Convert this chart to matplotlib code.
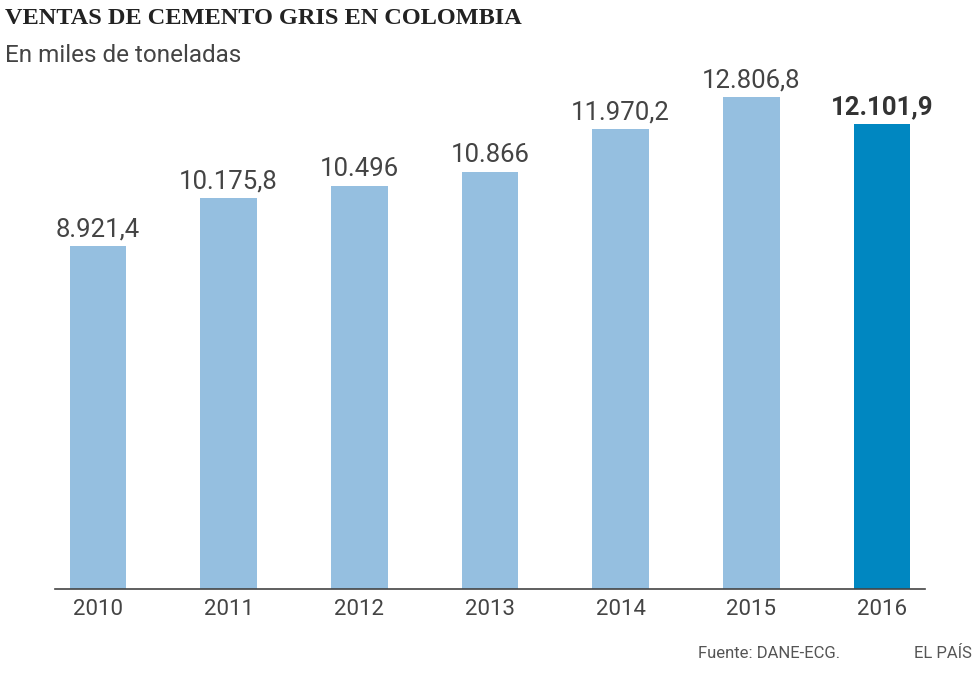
import matplotlib
matplotlib.use("Agg")
import matplotlib.pyplot as plt

years = ["2010", "2011", "2012", "2013", "2014", "2015", "2016"]
values = [8921.4, 10175.8, 10496, 10866, 11970.2, 12806.8, 12101.9]
labels = ["8.921,4", "10.175,8", "10.496", "10.866", "11.970,2", "12.806,8", "12.101,9"]
colors = ["#95bfe0"] * 6 + ["#0087c1"]

fig = plt.figure(figsize=(9.8, 6.74), dpi=100)
ax = fig.add_axes([55/980, (674-589)/674, 870/980, (589-80)/674])
x = list(range(len(years)))
ax.bar(x, values, width=0.436, color=colors, zorder=2)
ax.set_xlim(-0.329, 6.329)
ax.set_ylim(0, 13250)
for i, (v, l) in enumerate(zip(values, labels)):
    ax.text(i, v + 120, l, ha="center", va="bottom", fontsize=18.5,
            color="#333333" if i == 6 else "#444444",
            fontweight="bold" if i == 6 else "normal", family="Roboto")
ax.set_xticks(x)
ax.set_xticklabels(years, fontsize=16, color="#444444", family="Roboto")
ax.tick_params(axis="x", length=0, pad=7)
ax.set_yticks([])
for s in ["top", "right", "left"]:
    ax.spines[s].set_visible(False)
ax.spines["bottom"].set_color("#444444")
ax.spines["bottom"].set_linewidth(1.2)

fig.text(5/980, 1 - 18/674, "VENTAS DE CEMENTO GRIS EN COLOMBIA", fontsize=17.5,
         fontweight="bold", family="Liberation Serif", va="center", color="#222222")
fig.text(5/980, 1 - 56/674, "En miles de toneladas", fontsize=17.5,
         family="Roboto", va="center", color="#444444")
fig.text(698/980, 1 - 654/674, "Fuente: DANE-ECG.", fontsize=12,
         family="Roboto", va="center", color="#555555")
fig.text(972/980, 1 - 654/674, "EL PAÍS", fontsize=12, ha="right",
         family="Roboto", va="center", color="#555555")
fig.savefig("out.png", dpi=100, facecolor="white")
